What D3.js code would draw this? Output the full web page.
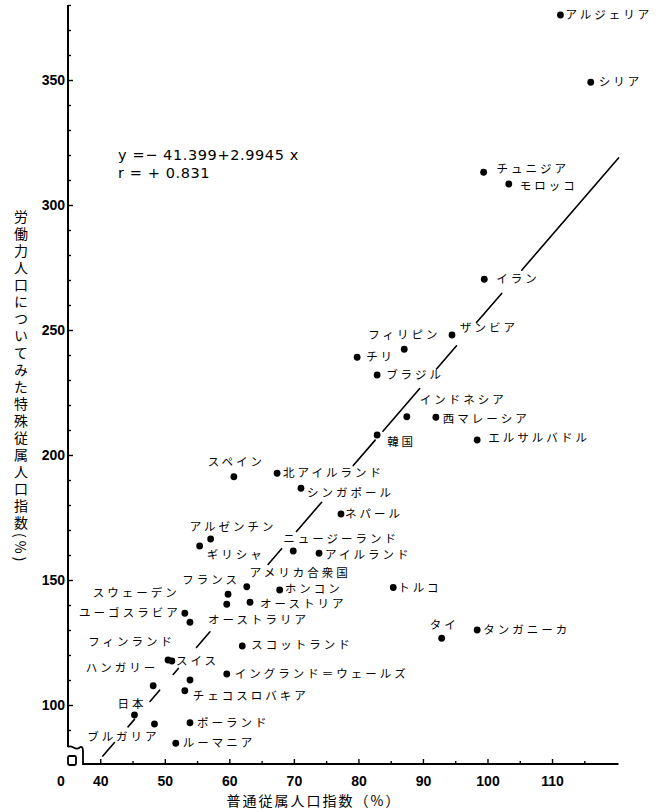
<!DOCTYPE html>
<html>
<head>
<meta charset="utf-8">
<script src="https://cdn.jsdelivr.net/npm/d3@7"></script>
<style>
body{margin:0;background:#fff;}
svg{display:block;}
</style>
</head>
<body>
<svg width="658" height="812"></svg>
<script>
// values
const countries = ['アルジェリア','シリア','チュニジア','モロッコ','イラン','ザンビア','フィリピン','チリ','ブラジル',
  'インドネシア','西マレーシア','韓国','エルサルバドル','スペイン','北アイルランド','シンガポール','ネパール',
  'アルゼンチン','ギリシャ','ニュージーランド','アイルランド','トルコ','アメリカ合衆国','ホンコン','フランス',
  'スウェーデン','オーストリア','ユーゴスラビア','オーストラリア','スコットランド','フィンランド','スイス',
  'イングランド＝ウェールズ','ハンガリー','チェコスロバキア','日本','ブルガリア','ポーランド','ルーマニア',
  'タイ','タンガニーカ'];
const generalIndex = [111.3,116.0,99.4,103.3,99.5,94.5,87.1,79.8,82.9,
  87.5,92.0,82.9,98.4,60.7,67.4,71.1,77.3,
  57.1,55.4,69.9,73.9,85.4,62.7,67.8,59.8,
  59.6,63.2,53.1,53.9,62.0,50.5,51.1,
  59.6,48.2,53.1,45.3,48.4,53.9,51.7,
  92.9,98.4];
const specialIndex = [376.0,349.1,313.1,308.4,270.3,248.0,242.3,239.1,232.0,
  215.3,215.1,208.0,206.0,191.3,192.7,186.7,176.4,
  166.4,163.6,161.6,160.7,147.0,147.3,146.0,144.3,
  140.3,141.1,136.7,133.1,123.6,118.0,117.6,
  112.4,107.7,105.7,96.0,92.4,92.9,84.7,
  126.7,130.0];
// one dot in the print carries no name
const unnamedGeneral = [53.9];
const unnamedSpecial = [110.0];

const xMajorTicks = [40,50,60,70,80,90,100,110];
const xMinorTicks = [45,55,65,75,85,95,105,115];
const yMajorTicks = [100,150,200,250,300,350];
const yMinorTicks = [90,110,120,130,140,160,170,180,190,210,220,230,240,260,270,280,290,310,320,330,340,360,370,380];

const fitA = -41.399;
const fitB = 2.9945;
const fitR = 0.831;
// the printed regression line is broken into pieces (x ranges)
const fitPieces = [[40.4,42.2],[44.3,45.3],[47.7,49.2],[51.3,52.1],[54.9,57.0],[66.0,68.1],[70.4,74.3],
  [79.2,82.6],[83.8,89.5],[92.1,95.2],[98.3,102.2],[105.3,120.3]];

const xTitle = '普通従属人口指数（%）';
const yTitle = '労働力人口についてみた特殊従属人口指数(%)';

// label placement relative to each dot: [dx, dy, anchor]
const labelPlace = {
  'アルジェリア':[5,0],'シリア':[8,0],'チュニジア':[13,-3],'モロッコ':[11,2],'イラン':[12,0],
  'ザンビア':[8,-7],'フィリピン':[-36,-14],'チリ':[9,0],'ブラジル':[9,0],'インドネシア':[13,-17],
  '西マレーシア':[7,2],'韓国':[10,7],'エルサルバドル':[11,-2],'スペイン':[-26,-15],'北アイルランド':[6,0],
  'シンガポール':[6,5],'ネパール':[4,0],'アルゼンチン':[-21,-12],'ギリシャ':[7,9],'ニュージーランド':[-10,-12],
  'アイルランド':[6,2],'トルコ':[5,0],'アメリカ合衆国':[3,-14],'ホンコン':[5,-1],'フランス':[12,-14,'end'],
  'スウェーデン':[-47,-11,'end'],'オーストリア':[10,2],'ユーゴスラビア':[-4,0,'end'],'オーストラリア':[18,-2],
  'スコットランド':[9,-1],'フィンランド':[7,-18,'end'],'スイス':[4,0],'イングランド＝ウェールズ':[8,0],
  'ハンガリー':[5,-18,'end'],'チェコスロバキア':[8,5],'日本':[12,-11,'end'],'ブルガリア':[5,13,'end'],
  'ポーランド':[7,0],'ルーマニア':[7,0],'タイ':[-12,-13],'タンガニーカ':[6,0]
};

const svg = d3.select('svg');
const jp = '"Noto Sans CJK JP", sans-serif';
const num = '"Liberation Sans", Arial, sans-serif';

const x = d3.scaleLinear().domain([35, 120.3]).range([68, 618.5]);
const y = d3.scaleLinear().domain([76.4, 380]).range([764, 5]);
const x0 = x(35), y0 = y(76.4);

// axes
const styleTicks = g => {
  g.select('.domain').remove();
  g.selectAll('line').attr('stroke','#000').attr('stroke-width',1.4);
  g.selectAll('text').attr('fill','#000').style('font-family',num).style('font-weight','bold').style('font-size','14px');
};

svg.append('g').attr('transform',`translate(0,${y0})`)
  .call(d3.axisBottom(x).tickValues(xMajorTicks).tickSize(-5).tickSizeOuter(0).tickPadding(12))
  .call(styleTicks);
svg.append('g').attr('transform',`translate(0,${y0})`)
  .call(d3.axisBottom(x).tickValues(xMinorTicks).tickSize(-3).tickSizeOuter(0).tickFormat(''))
  .call(styleTicks);
svg.append('g').attr('transform',`translate(${x0},0)`)
  .call(d3.axisLeft(y).tickValues(yMajorTicks).tickSize(-5).tickSizeOuter(0).tickPadding(3))
  .call(styleTicks);
svg.append('g').attr('transform',`translate(${x0},0)`)
  .call(d3.axisLeft(y).tickValues(yMinorTicks).tickSize(-3).tickSizeOuter(0).tickFormat(''))
  .call(styleTicks);

// axis lines with the break mark at the origin
svg.append('line').attr('x1',x0).attr('x2',x0).attr('y1',y(380)).attr('y2',y0-17)
  .attr('stroke','#000').attr('stroke-width',2);
svg.append('line').attr('x1',x0+15).attr('x2',x(120.3)).attr('y1',y0).attr('y2',y0)
  .attr('stroke','#000').attr('stroke-width',2);
svg.append('path')
  .attr('d',`M${x0},${y0-17} C${x0+4},${y0-20} ${x0+7},${y0-13} ${x0+11},${y0-16} S${x0+15},${y0-15} ${x0+15},${y0-11} L${x0+15},${y0+1}`)
  .attr('fill','none').attr('stroke','#000').attr('stroke-width',1.8);
svg.append('rect').attr('x',x0).attr('y',y0-8).attr('width',8).attr('height',9).attr('rx',1.5)
  .attr('fill','none').attr('stroke','#000').attr('stroke-width',1.8);
svg.append('text').attr('x',x0-7).attr('y',y0+22).attr('text-anchor','middle')
  .style('font-family',num).style('font-weight','bold').style('font-size','14px').text('0');

// axis titles
svg.append('text').attr('x',314).attr('y',806).attr('text-anchor','middle')
  .style('font-family',jp).style('font-size','14px').style('letter-spacing','2px').text(xTitle);
svg.append('text').attr('x',21).attr('y',210)
  .style('font-family',jp).style('font-size','14px').style('letter-spacing','3px')
  .style('writing-mode','vertical-rl').text(yTitle);

// regression line, in pieces
svg.append('g').selectAll('line').data(fitPieces).join('line')
  .attr('x1',d=>x(d[0])).attr('y1',d=>y(fitA+fitB*d[0]))
  .attr('x2',d=>x(d[1])).attr('y2',d=>y(fitA+fitB*d[1]))
  .attr('stroke','#000').attr('stroke-width',1.6).attr('stroke-linecap','round');

// equation
const eq = svg.append('g').style('font-family','"DejaVu Sans", sans-serif').style('font-size','14.5px')
  .style('letter-spacing','0.6px');
eq.append('text').attr('x',118).attr('y',160).text(`y =− ${Math.abs(fitA).toFixed(3)}+${fitB.toFixed(4)} x`);
eq.append('text').attr('x',118).attr('y',178).text(`r = + ${fitR.toFixed(3)}`);

// points
const points = countries.map((c,i)=>({name:c, gx:generalIndex[i], sy:specialIndex[i]}))
  .concat(unnamedGeneral.map((v,i)=>({name:'', gx:v, sy:unnamedSpecial[i]})));

svg.append('g').selectAll('circle').data(points).join('circle')
  .attr('cx',d=>x(d.gx)).attr('cy',d=>y(d.sy)).attr('r',3.4).attr('fill','#000');

svg.append('g').selectAll('text').data(points.filter(d=>d.name)).join('text')
  .attr('x',d=>x(d.gx)+(labelPlace[d.name]||[7,0])[0])
  .attr('y',d=>y(d.sy)+(labelPlace[d.name]||[7,0])[1])
  .attr('dy','0.36em')
  .attr('text-anchor',d=>(labelPlace[d.name]||[])[2]||'start')
  .style('font-family',jp).style('font-size','11.5px').style('letter-spacing','3px')
  .text(d=>d.name);
</script>
</body>
</html>
